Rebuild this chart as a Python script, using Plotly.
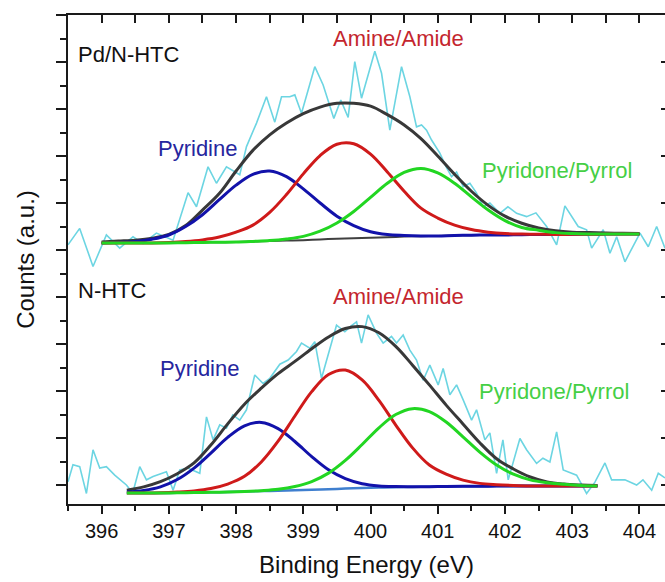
import plotly.graph_objects as go

# ---------------- data ----------------
# Fitted curves, Pd/N-HTC (upper spectrum, offset)
E_top = [396.0, 396.25, 396.5, 396.75, 397.0, 397.25, 397.5, 397.75, 398.0, 398.25, 398.5,
         398.75, 399.0, 399.25, 399.5, 399.75, 400.0, 400.25, 400.5, 400.75, 401.0, 401.25,
         401.5, 401.75, 402.0, 402.25, 402.5, 402.75, 403.0, 403.25, 403.5, 403.75, 404.0]
bg_top = [5.15, 5.15, 5.15, 5.15, 5.15, 5.155, 5.16, 5.165, 5.17, 5.18, 5.19, 5.20, 5.21, 5.225,
          5.24, 5.25, 5.26, 5.27, 5.285, 5.295, 5.30, 5.31, 5.315, 5.32, 5.32, 5.325, 5.33, 5.33,
          5.335, 5.335, 5.34, 5.34, 5.34]
pyridine_top = [5.15, 5.16, 5.18, 5.23, 5.32, 5.50, 5.75, 6.07, 6.38, 6.61, 6.68, 6.56, 6.30, 6.00,
                5.72, 5.52, 5.39, 5.33, 5.31, 5.30, 5.30, 5.31, 5.315, 5.32, 5.32, 5.325, 5.33,
                5.33, 5.335, 5.335, 5.34, 5.34, 5.34]
amine_top = [5.15, 5.15, 5.15, 5.15, 5.16, 5.18, 5.215, 5.275, 5.38, 5.53, 5.80, 6.18, 6.62, 7.01,
             7.25, 7.26, 7.04, 6.66, 6.25, 5.89, 5.68, 5.53, 5.435, 5.38, 5.35, 5.34, 5.335, 5.33,
             5.335, 5.335, 5.34, 5.34, 5.34]
pyrrol_top = [5.15, 5.15, 5.15, 5.15, 5.15, 5.155, 5.16, 5.165, 5.17, 5.183, 5.20, 5.235, 5.29,
              5.40, 5.575, 5.82, 6.12, 6.42, 6.65, 6.735, 6.64, 6.42, 6.13, 5.85, 5.625, 5.48,
              5.42, 5.37, 5.35, 5.342, 5.34, 5.34, 5.34]
env_top = [5.17, 5.19, 5.21, 5.25, 5.33, 5.52, 5.85, 6.20, 6.68, 7.12, 7.45, 7.70, 7.90, 8.04,
           8.12, 8.12, 8.06, 7.88, 7.66, 7.37, 7.00, 6.61, 6.25, 5.95, 5.72, 5.57, 5.47, 5.41,
           5.38, 5.37, 5.36, 5.355, 5.35]

# Fitted curves, N-HTC (lower spectrum)
E_bot = [396.375, 396.625, 396.875, 397.125, 397.375, 397.625, 397.875, 398.125, 398.375,
         398.625, 398.875, 399.125, 399.375, 399.625, 399.875, 400.125, 400.375, 400.625,
         400.875, 401.125, 401.375, 401.625, 401.875, 402.125, 402.375, 402.625, 402.875,
         403.125, 403.375]
bg_bot = [-0.17, -0.17, -0.17, -0.165, -0.16, -0.155, -0.15, -0.14, -0.13, -0.12, -0.11, -0.10,
          -0.09, -0.075, -0.065, -0.055, -0.045, -0.04, -0.035, -0.03, -0.027, -0.025, -0.023,
          -0.022, -0.021, -0.02, -0.02, -0.02, -0.02]
pyridine_bot = [-0.15, -0.117, -0.04, 0.116, 0.36, 0.68, 1.013, 1.26, 1.332, 1.20, 0.926, 0.604,
                0.323, 0.136, 0.028, -0.019, -0.033, -0.037, -0.035, -0.03, -0.027, -0.025,
                -0.023, -0.022, -0.021, -0.02, -0.02, -0.02, -0.02]
amine_bot = [-0.17, -0.17, -0.165, -0.15, -0.125, -0.075, 0.02, 0.184, 0.49, 0.932, 1.469, 1.987,
             2.351, 2.445, 2.235, 1.80, 1.276, 0.79, 0.425, 0.23, 0.103, 0.035, 0.007, -0.01,
             -0.021, -0.02, -0.02, -0.02, -0.02]
pyrrol_bot = [-0.17, -0.17, -0.17, -0.165, -0.16, -0.155, -0.15, -0.14, -0.12, -0.09, -0.03, 0.074,
              0.253, 0.524, 0.862, 1.217, 1.50, 1.625, 1.562, 1.34, 1.024, 0.70, 0.425, 0.23,
              0.11, 0.05, 0.015, -0.01, -0.02]
env_bot = [-0.11, -0.04, 0.07, 0.24, 0.47, 0.85, 1.30, 1.72, 2.06, 2.37, 2.63, 2.90, 3.15, 3.33,
           3.37, 3.24, 2.95, 2.55, 2.13, 1.70, 1.30, 0.90, 0.56, 0.34, 0.17, 0.065, 0.02, 0.0,
           -0.01]

# Raw spectra (cyan)
E_raw_top = [395.500, 395.674, 395.872, 396.071, 396.269, 396.467, 396.616, 396.815, 397.063,
             397.286, 397.411, 397.583, 397.708, 397.857, 398.055, 398.155, 398.304, 398.452,
             398.576, 398.676, 398.799, 398.874, 398.973, 399.171, 399.295, 399.454, 399.558,
             399.667, 399.766, 399.866, 400.064, 400.164, 400.287, 400.461, 400.585, 400.684,
             400.759, 400.833, 400.908, 401.031, 401.131, 401.205, 401.280, 401.378, 401.478,
             401.577, 401.676, 401.775, 401.924, 402.043, 402.173, 402.321, 402.460, 402.619,
             402.768, 402.891, 403.089, 403.214, 403.289, 403.461, 403.561, 403.661, 403.784,
             404.008, 404.131, 404.256, 404.380]
I_raw_top = [5.11, 5.46, 4.65, 5.32, 5.04, 5.28, 5.14, 5.36, 5.21, 6.22, 5.92, 6.77, 6.42, 6.77,
             6.60, 7.20, 7.70, 8.26, 7.72, 8.26, 8.26, 8.30, 7.91, 8.90, 8.51, 7.80, 8.19, 7.82,
             9.01, 8.23, 9.23, 8.76, 7.55, 8.90, 8.26, 7.62, 7.66, 7.55, 7.34, 7.06, 6.75, 6.56,
             6.66, 6.35, 6.42, 6.21, 5.92, 6.00, 5.78, 5.92, 5.78, 5.71, 5.79, 5.50, 5.11, 5.94,
             5.50, 5.43, 5.04, 5.43, 4.93, 5.28, 4.75, 5.36, 5.07, 5.50, 5.04]
E_raw_bot = [395.500, 395.574, 395.674, 395.774, 395.872, 395.972, 396.071, 396.195, 396.369,
             396.463, 396.567, 396.667, 396.765, 396.865, 396.964, 397.063, 397.162, 397.281,
             397.460, 397.560, 397.658, 397.757, 397.857, 397.951, 398.055, 398.155, 398.278,
             398.402, 398.502, 398.651, 398.774, 398.899, 398.973, 399.097, 399.171, 399.271,
             399.394, 399.494, 399.618, 399.707, 399.792, 399.866, 399.964, 400.089, 400.188,
             400.312, 400.387, 400.485, 400.585, 400.684, 400.783, 400.882, 401.006, 401.080,
             401.180, 401.280, 401.378, 401.503, 401.577, 401.701, 401.775, 401.875, 401.969,
             402.048, 402.222, 402.321, 402.470, 402.564, 402.668, 402.768, 402.866, 402.966,
             403.065, 403.214, 403.338, 403.487, 403.586, 403.784, 403.958, 404.052, 404.182,
             404.280, 404.380]
I_raw_bot = [0.07, 0.43, 0.39, -0.18, 0.75, 0.36, 0.39, 0.21, 0.00, -0.17, 0.39, 0.11, 0.18, 0.23,
             0.28, -0.11, 0.32, 0.36, 0.25, 1.45, 0.96, 1.28, 1.21, 1.49, 1.38, 1.60, 2.34, 2.16,
             2.27, 2.57, 2.66, 2.84, 3.02, 2.91, 3.05, 2.27, 2.91, 3.40, 3.26, 3.38, 3.47, 3.02,
             3.62, 3.23, 3.02, 3.16, 3.02, 3.19, 2.87, 2.66, 2.23, 2.55, 2.13, 2.48, 1.92, 2.13,
             1.81, 1.38, 1.60, 0.96, 1.11, 0.25, 0.96, 0.11, 0.99, 0.75, 0.46, 0.57, 0.49, 1.13,
             0.32, 0.26, 0.21, -0.18, 0.06, 0.47, 0.11, 0.11, 0.00, 0.11, -0.11, 0.25, 0.15]

x_ticks = [396, 397, 398, 399, 400, 401, 402, 403, 404]
x_range = [395.5, 404.38]
y_range = [-0.404, 10.0]

# labels: (text, x, y, color, anchor)
labels = [
    ("Pd/N-HTC", 395.615, 9.15, "#111111", "left"),
    ("Amine/Amide", 400.41, 9.51, "#c4262e", "center"),
    ("Pyridine", 397.42, 7.17, "#26269e", "center"),
    ("Pyridone/Pyrrol", 402.77, 6.70, "#45cf45", "center"),
    ("N-HTC", 395.625, 4.13, "#111111", "left"),
    ("Amine/Amide", 400.41, 4.01, "#c4262e", "center"),
    ("Pyridine", 397.45, 2.48, "#26269e", "center"),
    ("Pyridone/Pyrrol", 402.73, 1.99, "#45cf45", "center"),
]

# ---------------- styles ----------------
C_RAW = "#6cd5e2"
C_ENV = "#383838"
C_BLUE = "#1212aa"
C_RED = "#cf1a1a"
C_GREEN = "#22d622"
C_BG_TOP = "#404040"
C_BG_BOT = "#3f7fcf"

fig = go.Figure()


def line(x, y, color, width, shape="spline"):
    fig.add_trace(go.Scatter(x=x, y=y, mode="lines", showlegend=False, hoverinfo="skip",
                             line=dict(color=color, width=width, shape=shape)))


line(E_raw_top, I_raw_top, C_RAW, 1.6, "linear")
line(E_raw_bot, I_raw_bot, C_RAW, 1.6, "linear")

line(E_top, bg_top, C_BG_TOP, 2)
line(E_top, env_top, C_ENV, 3)
line(E_top, pyridine_top, C_BLUE, 3)
line(E_top, amine_top, C_RED, 3)
line(E_top, pyrrol_top, C_GREEN, 3)

line(E_bot, bg_bot, C_BG_BOT, 2.5)
line(E_bot, env_bot, C_ENV, 3)
line(E_bot, pyridine_bot, C_BLUE, 3)
line(E_bot, amine_bot, C_RED, 3)
line(E_bot, pyrrol_bot, C_GREEN, 3)

# dummy trace so the mirrored top / right axes are drawn
fig.add_trace(go.Scatter(x=[None], y=[None], xaxis="x2", yaxis="y2", showlegend=False,
                         hoverinfo="skip"))

AX = "#1a1a1a"
FONT = "Arial, Liberation Sans, sans-serif"

fig.update_layout(
    width=665, height=582,
    margin=dict(l=68, r=0, t=15, b=78, autoexpand=False),
    paper_bgcolor="white", plot_bgcolor="white", showlegend=False,
    font=dict(family=FONT, color="#111111"),
    xaxis=dict(range=x_range, tickmode="array", tickvals=x_ticks,
               ticktext=[str(t) for t in x_ticks],
               ticks="outside", ticklen=8, tickwidth=1.5, tickcolor=AX,
               showline=True, linewidth=1.5, linecolor=AX, showgrid=False, zeroline=False,
               tickfont=dict(size=20, color="#111111"), automargin=False,
               minor=dict(tick0=395.5, dtick=0.5, ticks="outside", ticklen=5, tickwidth=1.5,
                          tickcolor=AX, showgrid=False),
               title=dict(text="Binding Energy (eV)", font=dict(size=24, color="#111111"),
                          standoff=15)),
    xaxis2=dict(range=x_range, overlaying="x", side="top", anchor="y2",
                tick0=395.5, dtick=0.5, ticks="inside", ticklen=8, tickwidth=1.5, tickcolor=AX,
                showticklabels=False, showline=True, linewidth=1.5, linecolor=AX,
                showgrid=False, zeroline=False),
    yaxis=dict(range=y_range, tick0=0, dtick=1, ticks="outside", ticklen=10, tickwidth=1.5,
               tickcolor=AX, showticklabels=False, showline=True, linewidth=1.5, linecolor=AX,
               showgrid=False, zeroline=False, automargin=False,
               minor=dict(tick0=0, dtick=0.5, ticks="outside", ticklen=6, tickwidth=1.5,
                          tickcolor=AX, showgrid=False),
               title=dict(text="Counts (a.u.)", font=dict(size=24, color="#111111"),
                          standoff=15)),
    yaxis2=dict(range=y_range, overlaying="y", side="right", anchor="x2",
                tick0=0, dtick=1, ticks="inside", ticklen=4, tickwidth=1.5, tickcolor=AX,
                showticklabels=False, showline=False, showgrid=False, zeroline=False),
)

for text, x, y, color, anchor in labels:
    fig.add_annotation(x=x, y=y, xref="x", yref="y", text=text, showarrow=False,
                       xanchor=anchor, yanchor="middle",
                       font=dict(family=FONT, size=22, color=color))

fig.write_html("out.html")
